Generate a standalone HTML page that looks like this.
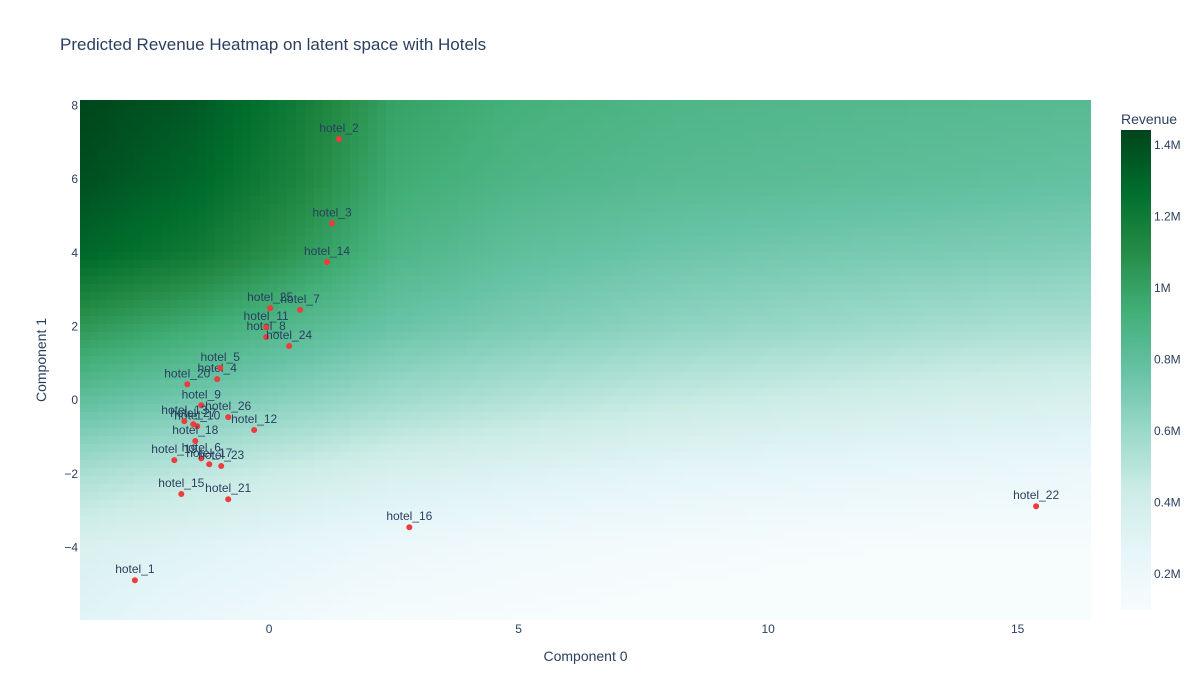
<!DOCTYPE html>
<html><head><meta charset="utf-8"><style>
html,body{margin:0;background:#fff;overflow:hidden;width:1200px;height:700px;font-family:"Liberation Sans",Arial,sans-serif;}
svg{display:block;}
svg text{font-family:"Liberation Sans",Arial,sans-serif;}
</style></head><body>
<svg id="chart" width="1200" height="700">
<defs>
<linearGradient id="cbgrad" x1="0" y1="1" x2="0" y2="0">
<stop offset="0" stop-color="rgb(247,252,253)"/><stop offset="0.125" stop-color="rgb(229,245,249)"/>
<stop offset="0.25" stop-color="rgb(204,236,230)"/><stop offset="0.375" stop-color="rgb(153,216,201)"/>
<stop offset="0.5" stop-color="rgb(102,194,164)"/><stop offset="0.625" stop-color="rgb(65,174,118)"/>
<stop offset="0.75" stop-color="rgb(35,139,69)"/><stop offset="0.875" stop-color="rgb(0,109,44)"/>
<stop offset="1" stop-color="rgb(0,68,27)"/></linearGradient>
</defs>
<text x="60" y="50" font-size="17" fill="#2a3f5f">Predicted Revenue Heatmap on latent space with Hotels</text>
<g id="heatcells" shape-rendering="crispEdges"></g>
<g id="axes"></g>
<g id="points"></g>
<text x="585.5" y="661" font-size="14" fill="#2a3f5f" text-anchor="middle">Component 0</text>
<text transform="translate(46,360) rotate(-90)" font-size="14" fill="#2a3f5f" text-anchor="middle">Component 1</text>
<text x="1121" y="124" font-size="14" fill="#2a3f5f">Revenue</text>
<rect x="1121" y="130" width="30" height="480" fill="url(#cbgrad)"/>
<g id="cbticks"></g>
</svg>
<script>
const gridX = [-3.8,-1.5,0.5,2.5,5,8,11,14,16.5];
const gridY = [8.2,6,4,2,0,-2,-4,-6];
const gridZ = [
 [1.44,1.36,1.2,1.0,0.92,0.88,0.86,0.85,0.84],
 [1.4,1.3,1.15,0.95,0.88,0.84,0.82,0.8,0.78],
 [1.3,1.2,1.05,0.88,0.8,0.75,0.72,0.7,0.68],
 [1.05,0.95,0.85,0.76,0.7,0.64,0.6,0.56,0.54],
 [0.8,0.72,0.65,0.58,0.52,0.46,0.42,0.38,0.36],
 [0.55,0.48,0.42,0.36,0.32,0.27,0.24,0.22,0.2],
 [0.35,0.3,0.25,0.2,0.16,0.13,0.11,0.1,0.1],
 [0.3,0.22,0.16,0.12,0.1,0.08,0.07,0.06,0.06]
];
const hotelNames = ["hotel_1","hotel_2","hotel_3","hotel_4","hotel_5","hotel_6","hotel_7","hotel_8","hotel_9","hotel_10","hotel_11","hotel_12","hotel_13","hotel_14","hotel_15","hotel_16","hotel_17","hotel_18","hotel_19","hotel_20","hotel_21","hotel_22","hotel_23","hotel_24","hotel_25","hotel_26","hotel_27"];
const hotelX = [-2.69,1.40,1.26,-1.04,-0.98,-1.36,0.62,-0.06,-1.36,-1.44,-0.06,-0.30,-1.70,1.16,-1.76,2.81,-1.20,-1.48,-1.90,-1.64,-0.82,15.37,-0.96,0.40,0.02,-0.82,-1.52];
const hotelY = [-4.89,7.09,4.80,0.57,0.87,-1.58,2.45,1.71,-0.14,-0.71,1.98,-0.81,-0.57,3.75,-2.55,-3.45,-1.74,-1.11,-1.63,0.43,-2.69,-2.88,-1.79,1.47,2.50,-0.46,-0.65];
const xTicks = [0,5,10,15];
const yTicks = [8,6,4,2,0,-2,-4];
const yTickLabels = ["8","6","4","2","0","\u22122","\u22124"];
const cbTicks = [0.2,0.4,0.6,0.8,1.0,1.2,1.4];
const cbTickLabels = ["0.2M","0.4M","0.6M","0.8M","1M","1.2M","1.4M"];

const X0=80,X1=1091,Y0=100,Y1=620;
const xmin=-3.79,xmax=16.47,ymin=-5.97,ymax=8.15;
const xs=v=>X0+(v-xmin)/(xmax-xmin)*(X1-X0);
const ys=v=>Y1-(v-ymin)/(ymax-ymin)*(Y1-Y0);
const xinv=p=>xmin+(p-X0)/(X1-X0)*(xmax-xmin);
const yinv=p=>ymin+(Y1-p)/(Y1-Y0)*(ymax-ymin);
const zmin=0.1,zmax=1.442;
const cbY=v=>610-(v-zmin)/(zmax-zmin)*480;
const stops=[[247,252,253],[229,245,249],[204,236,230],[153,216,201],[102,194,164],[65,174,118],[35,139,69],[0,109,44],[0,68,27]];
function color(z){let t=Math.max(0,Math.min(1,(z-zmin)/(zmax-zmin)))*8;let i=Math.min(7,Math.floor(t));let f=t-i;
 const a=stops[i],b=stops[i+1];return `rgb(${Math.round(a[0]+(b[0]-a[0])*f)},${Math.round(a[1]+(b[1]-a[1])*f)},${Math.round(a[2]+(b[2]-a[2])*f)})`;}
const NS="http://www.w3.org/2000/svg";
function mk(tag,attrs,parent){const e=document.createElementNS(NS,tag);for(const k in attrs)e.setAttribute(k,attrs[k]);parent.appendChild(e);return e;}
function locate(arr,v,desc){ // returns index i and fraction f between arr[i], arr[i+1]
 for(let i=0;i<arr.length-1;i++){const a=arr[i],b=arr[i+1];
  const inside=desc?(v<=a&&v>=b):(v>=a&&v<=b);
  if(inside)return[i,(v-a)/(b-a)];}
 if(desc?v>arr[0]:v<arr[0])return[0,0];
 return[arr.length-2,1];}
function zAt(x,y){const[ci,cf]=locate(gridX,x,false);const[ri,rf]=locate(gridY,y,true);
 const z00=gridZ[ri][ci],z01=gridZ[ri][ci+1],z10=gridZ[ri+1][ci],z11=gridZ[ri+1][ci+1];
 return (z00*(1-cf)+z01*cf)*(1-rf)+(z10*(1-cf)+z11*cf)*rf;}
const hc=document.getElementById('heatcells');
const CW=9,CH=8;
for(let py=Y0;py<Y1;py+=CH){for(let px=X0;px<X1;px+=CW){
 const w=Math.min(CW,X1-px),h=Math.min(CH,Y1-py);
 const el=mk('rect',{x:px,y:py,width:w,height:h,fill:color(zAt(xinv(px+w/2),yinv(py+h/2)))},hc);
 
 
}}
const ax=document.getElementById('axes');
xTicks.forEach(t=>{const e=mk('text',{x:xs(t),y:633,'font-size':12,fill:'#2a3f5f','text-anchor':'middle'},ax);e.textContent=t;
 
 });
yTicks.forEach((t,i)=>{const e=mk('text',{x:78,y:ys(t)+4,'font-size':12,fill:'#2a3f5f','text-anchor':'end'},ax);e.textContent=yTickLabels[i];
 
 });
const cb=document.getElementById('cbticks');
cbTicks.forEach((t,i)=>{const e=mk('text',{x:1154,y:cbY(t)+4,'font-size':12,fill:'#2a3f5f'},cb);e.textContent=cbTickLabels[i];
 
 });
const pg=document.getElementById('points');
hotelNames.forEach((n,i)=>{
 const px=xs(hotelX[i]),py=ys(hotelY[i]);
 const c=mk('circle',{cx:px,cy:py,r:3,fill:'#ef3b3b'},pg);
 
 
 const t=mk('text',{x:px,y:py-7,'font-size':12,fill:'#2a3f5f','text-anchor':'middle'},pg);t.textContent=n;
 
 
});
</script>
</body></html>
